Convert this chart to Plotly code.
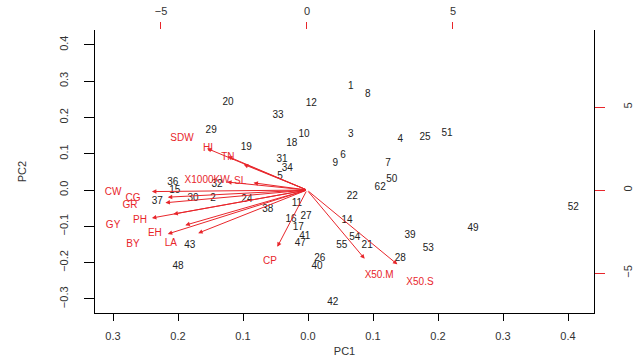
import plotly.graph_objects as go

# Observation scores (PC1, PC2) with labels
obs_labels = ["1", "8", "12", "20", "33", "29", "10", "18", "19", "3", "4", "25", "51",
              "6", "9", "7", "50", "62", "22", "31", "34", "5", "36", "15", "32", "37",
              "30", "2", "24", "38", "11", "16", "27", "17", "47", "14", "41", "54",
              "55", "21", "26", "40", "39", "53", "49", "28", "42", "52", "43", "48"]
obs_pc1 = [0.066, 0.092, 0.005, -0.123, -0.046, -0.149, -0.006, -0.025, -0.095, 0.066,
           0.142, 0.180, 0.214, 0.054, 0.042, 0.123, 0.129, 0.111, 0.068, -0.040,
           -0.032, -0.043, -0.208, -0.205, -0.140, -0.232, -0.177, -0.146, -0.094,
           -0.062, -0.017, -0.026, -0.003, -0.015, -0.012, 0.060, -0.005, 0.072,
           0.052, 0.091, 0.018, 0.014, 0.157, 0.185, 0.254, 0.142, 0.038, 0.408,
           -0.182, -0.200]
obs_pc2 = [0.286, 0.264, 0.237, 0.240, 0.204, 0.165, 0.152, 0.129, 0.116, 0.152,
           0.140, 0.146, 0.157, 0.094, 0.074, 0.072, 0.028, 0.008, -0.017, 0.083,
           0.058, 0.036, 0.022, 0.000, 0.014, -0.033, -0.022, -0.022, -0.025,
           -0.055, -0.036, -0.080, -0.074, -0.102, -0.146, -0.083, -0.129, -0.132,
           -0.152, -0.152, -0.190, -0.212, -0.124, -0.160, -0.107, -0.190, -0.309,
           -0.047, -0.152, -0.212]

# Variable loadings (secondary axes)
var_labels = ["SDW", "HI", "TN", "X1000KW", "SL", "CW", "CG", "GR", "PH", "GY",
              "EH", "BY", "LA", "CP", "X50.M", "X50.S"]
var_pc1 = [-4.28, -3.39, -2.71, -3.42, -2.29, -6.64, -5.96, -6.06, -5.72, -6.64,
           -5.21, -5.96, -4.66, -1.27, 2.47, 3.87]
var_pc2 = [3.13, 2.53, 1.93, 0.60, 0.54, -0.12, -0.54, -0.96, -1.81, -2.11,
           -2.65, -3.31, -3.25, -4.28, -5.18, -5.60]

bottom_ticks = [-0.3, -0.2, -0.1, 0.0, 0.1, 0.2, 0.3, 0.4]
bottom_text = ["0.3", "0.2", "0.1", "0.0", "0.1", "0.2", "0.3", "0.4"]
left_ticks = [-0.3, -0.2, -0.1, 0.0, 0.1, 0.2, 0.3, 0.4]
top_ticks = [-5, 0, 5]
right_ticks = [-5, 0, 5]

RED = "#e8262b"
FONT = "Liberation Sans, Arial, sans-serif"

fig = go.Figure()
fig.add_trace(go.Scatter(
    x=obs_pc1, y=obs_pc2, text=obs_labels, mode="text",
    textfont=dict(family=FONT, size=10, color="#222222"),
    hoverinfo="skip", showlegend=False))
fig.add_trace(go.Scatter(
    x=var_pc1, y=var_pc2, text=var_labels, mode="text",
    textfont=dict(family=FONT, size=10, color=RED),
    xaxis="x2", yaxis="y2", hoverinfo="skip", showlegend=False))

for vx, vy in zip(var_pc1, var_pc2):
    fig.add_annotation(
        x=0.8 * vx, y=0.8 * vy, ax=0, ay=0,
        xref="x2", yref="y2", axref="x2", ayref="y2",
        showarrow=True, arrowhead=2, arrowsize=0.9, arrowwidth=1,
        arrowcolor=RED, text="")

fig.update_layout(
    width=636, height=362,
    margin=dict(l=95, r=42, t=30, b=49),
    paper_bgcolor="white", plot_bgcolor="white",
    font=dict(family=FONT, size=11, color="#333333"),
    xaxis=dict(range=[-0.3277, 0.44], tickvals=bottom_ticks, ticktext=bottom_text,
               showgrid=False, zeroline=False, automargin=False,
               showline=True, linecolor="black", linewidth=1,
               ticks="outside", ticklen=7, tickcolor="black",
               ticklabelstandoff=6,
               title=dict(text="PC1", standoff=6, font=dict(size=11))),
    yaxis=dict(range=[-0.3388, 0.4408], tickvals=left_ticks,
               tickformat=".1f", automargin=False,
               showgrid=False, zeroline=False,
               showline=True, linecolor="black", linewidth=1,
               ticks="outside", ticklen=10, tickcolor="black",
               tickangle=-90, ticklabelstandoff=12,
               title=dict(text="PC2", standoff=28, font=dict(size=11))),
    xaxis2=dict(range=[-7.26, 9.83], overlaying="x", side="top", anchor="y",
                tickvals=top_ticks, showgrid=False, zeroline=False,
                automargin=False,
                showline=False, ticks="outside", ticklen=7, tickcolor=RED,
                ticklabelstandoff=3),
    yaxis2=dict(range=[-7.41, 9.64], overlaying="y", side="right", anchor="x",
                tickvals=right_ticks, showgrid=False, zeroline=False,
                automargin=False,
                showline=True, linecolor="black", linewidth=1,
                ticks="outside", ticklen=10, tickcolor=RED,
                tickangle=-90, ticklabelstandoff=14),
)

fig.write_html("out.html",
               config={"displayModeBar": False},
               post_script="document.body.style.margin='0';document.body.style.padding='0';")
